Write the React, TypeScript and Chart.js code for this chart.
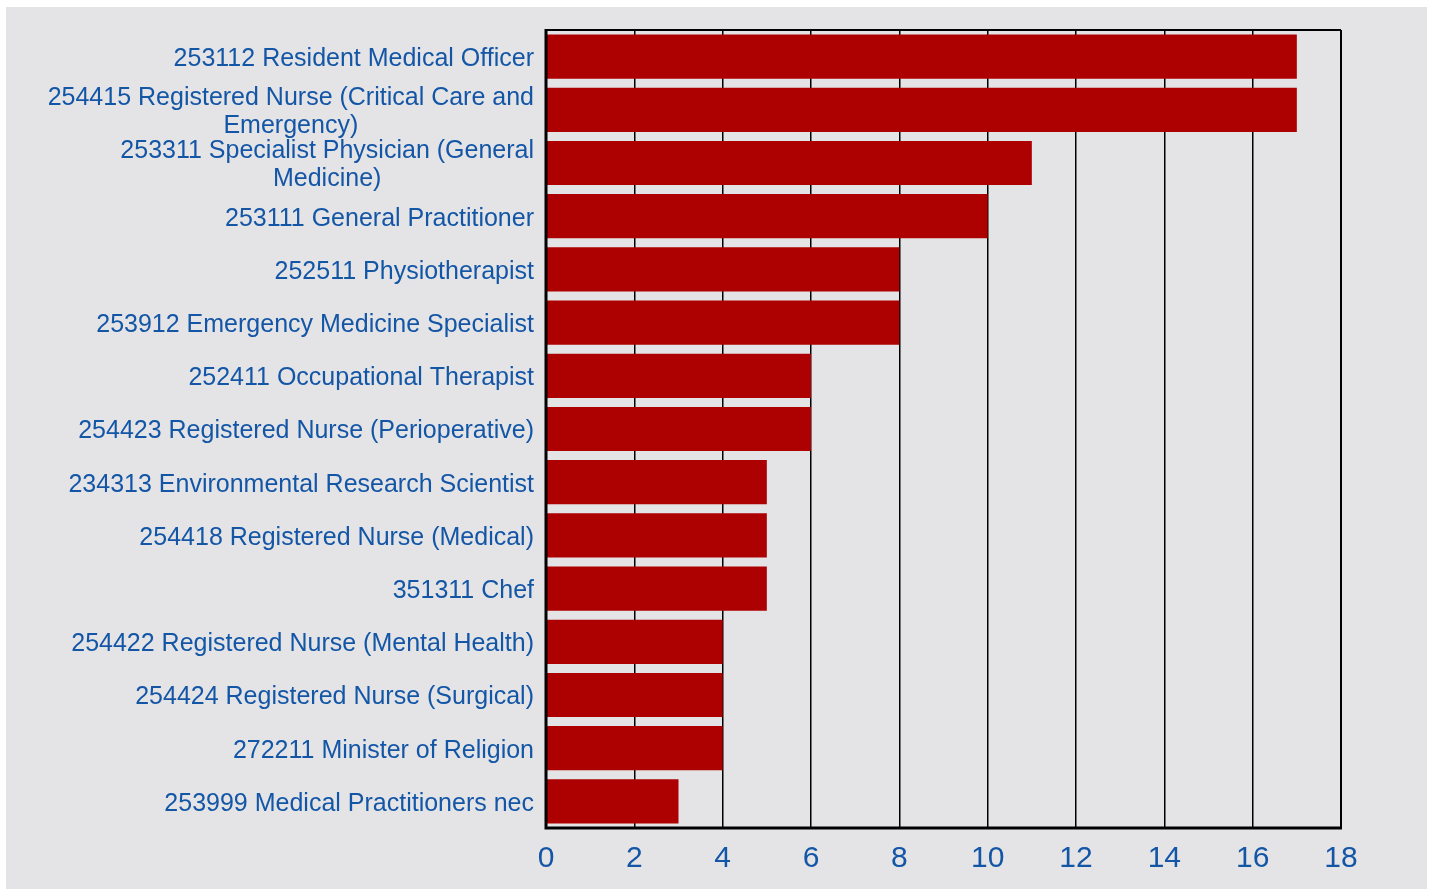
import React, { useEffect, useRef } from "react";
import { Chart, registerables } from "chart.js";

Chart.register(...registerables);

const categories: string[][] = [
  ["253112 Resident Medical Officer"],
  ["254415 Registered Nurse (Critical Care and", "Emergency)"],
  ["253311 Specialist Physician (General", "Medicine)"],
  ["253111 General Practitioner"],
  ["252511 Physiotherapist"],
  ["253912 Emergency Medicine Specialist"],
  ["252411 Occupational Therapist"],
  ["254423 Registered Nurse (Perioperative)"],
  ["234313 Environmental Research Scientist"],
  ["254418 Registered Nurse (Medical)"],
  ["351311 Chef"],
  ["254422 Registered Nurse (Mental Health)"],
  ["254424 Registered Nurse (Surgical)"],
  ["272211 Minister of Religion"],
  ["253999 Medical Practitioners nec"],
];

const values: number[] = [17, 17, 11, 10, 8, 8, 6, 6, 5, 5, 5, 4, 4, 4, 3];

const xTicks: number[] = [0, 2, 4, 6, 8, 10, 12, 14, 16, 18];

const BAR = "#ad0000";
const TEXT = "#1456a6";
const BG = "#e4e4e7";
const FONT = "'Liberation Sans', Arial, sans-serif";

const framePlugin = {
  id: "frameAndLabels",
  afterDatasetsDraw(chart: any) {
    const { ctx, chartArea } = chart;
    const { left, right, top, bottom } = chartArea;
    ctx.save();
    ctx.strokeStyle = "#000";
    ctx.lineWidth = 2;
    ctx.beginPath();
    ctx.moveTo(left, top);
    ctx.lineTo(right, top);
    ctx.moveTo(right, top);
    ctx.lineTo(right, bottom);
    ctx.stroke();
    ctx.lineWidth = 3;
    ctx.beginPath();
    ctx.moveTo(left, top - 1);
    ctx.lineTo(left, bottom);
    ctx.lineTo(right + 1, bottom);
    ctx.stroke();

    // y labels: right-aligned block, lines centered within each block
    const y = chart.scales.y;
    ctx.font = `25px ${FONT}`;
    ctx.fillStyle = TEXT;
    ctx.textAlign = "center";
    ctx.textBaseline = "middle";
    const lh = 28;
    categories.forEach((lines, i) => {
      const py = y.getPixelForTick(i);
      let w = 0;
      lines.forEach((l) => {
        w = Math.max(w, ctx.measureText(l).width);
      });
      const cx = left - 12 - w / 2;
      lines.forEach((l, j) => {
        ctx.fillText(l, cx, py + (j - (lines.length - 1) / 2) * lh + 2.5);
      });
    });
    ctx.restore();
  },
};

export default function App() {
  const ref = useRef<HTMLCanvasElement | null>(null);
  useEffect(() => {
    if (!ref.current) return;
    const chart = new Chart(ref.current, {
      type: "bar",
      data: {
        labels: categories.map((c) => c.join(" ")),
        datasets: [
          {
            data: values,
            backgroundColor: BAR,
            borderWidth: 0,
            barPercentage: 0.83,
            categoryPercentage: 1,
          },
        ],
      },
      options: {
        indexAxis: "y",
        animation: false,
        responsive: false,
        maintainAspectRatio: false,
        layout: { padding: { top: 23, right: 86, left: 0, bottom: 0 } },
        plugins: {
          legend: { display: false },
          tooltip: { enabled: false },
        },
        scales: {
          x: {
            min: 0,
            max: 18,
            afterBuildTicks: (scale: any) => {
              scale.ticks = xTicks.map((v) => ({ value: v }));
            },
            border: { display: false },
            grid: { color: "#000", lineWidth: 1.5, drawTicks: false },
            ticks: {
              color: TEXT,
              font: { family: FONT, size: 30 },
              padding: 13,
            },
            afterFit: (scale: any) => {
              scale.height = 61;
            },
          },
          y: {
            border: { display: false },
            grid: { display: false },
            ticks: { color: "rgba(0,0,0,0)", font: { size: 25 } },
            afterFit: (scale: any) => {
              scale.width = 540;
            },
          },
        },
      },
      plugins: [framePlugin],
    });
    return () => chart.destroy();
  }, []);
  return (
    <div
      style={{
        position: "absolute",
        left: 6,
        top: 7,
        width: 1421,
        height: 882,
        background: BG,
      }}
    >
      <canvas ref={ref} width={1421} height={882} style={{ display: "block" }} />
    </div>
  );
}
